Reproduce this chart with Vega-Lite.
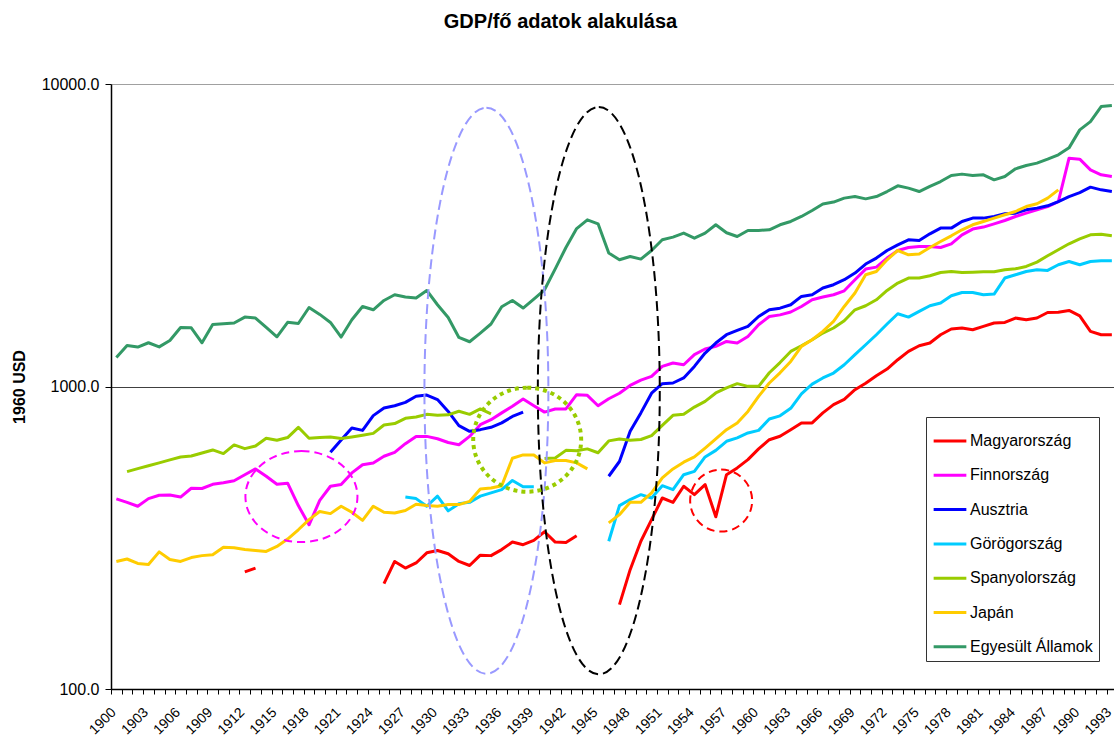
{
  "$schema": "https://vega.github.io/schema/vega-lite/v6.json",
  "width": 1003,
  "height": 605,
  "autosize": "none",
  "padding": {"left": 111, "top": 84, "right": 0, "bottom": 50},
  "background": "white",
  "config": {"font": "Liberation Sans", "view": {"stroke": null}},
  "title": {"text": "GDP/fő adatok alakulása", "fontSize": 20, "fontWeight": "bold", "color": "black", "font": "Liberation Sans", "anchor": "middle", "dx": -52, "offset": 44, "frame": "group"},
  "layer": [
    {
      "data": {"values": [
        {"Év":1900,"Finnország":425,"Japán":264,"Egyesült Államok":1248},
        {"Év":1901,"Finnország":414,"Spanyolország":523,"Japán":269,"Egyesült Államok":1367},
        {"Év":1902,"Finnország":402,"Spanyolország":535,"Japán":260,"Egyesült Államok":1350},
        {"Év":1903,"Finnország":426,"Spanyolország":547,"Japán":258,"Egyesült Államok":1395},
        {"Év":1904,"Finnország":437,"Spanyolország":559,"Japán":284,"Egyesült Államok":1352},
        {"Év":1905,"Finnország":438,"Spanyolország":572,"Japán":268,"Egyesült Államok":1420},
        {"Év":1906,"Finnország":431,"Spanyolország":585,"Japán":264,"Egyesült Államok":1567},
        {"Év":1907,"Finnország":461,"Spanyolország":589,"Japán":272,"Egyesült Államok":1563},
        {"Év":1908,"Finnország":460,"Spanyolország":603,"Japán":276,"Egyesült Államok":1395},
        {"Év":1909,"Finnország":475,"Spanyolország":617,"Japán":278,"Egyesült Államok":1604},
        {"Év":1910,"Finnország":481,"Spanyolország":600,"Japán":294,"Egyesült Államok":1612},
        {"Év":1911,"Finnország":488,"Spanyolország":641,"Japán":293,"Egyesült Államok":1621},
        {"Év":1912,"Magyarország":244,"Finnország":511,"Spanyolország":623,"Japán":289,"Egyesült Államok":1696},
        {"Év":1913,"Magyarország":251,"Finnország":534,"Spanyolország":636,"Japán":287,"Egyesült Államok":1683},
        {"Év":1914,"Finnország":505,"Spanyolország":674,"Japán":285,"Egyesült Államok":1567},
        {"Év":1915,"Finnország":475,"Spanyolország":664,"Japán":296,"Egyesült Államok":1460},
        {"Év":1916,"Finnország":479,"Spanyolország":678,"Japán":313,"Egyesült Államok":1630},
        {"Év":1917,"Finnország":404,"Spanyolország":733,"Japán":336,"Egyesült Államok":1615},
        {"Év":1918,"Finnország":349,"Spanyolország":674,"Japán":363,"Egyesült Államok":1825},
        {"Év":1919,"Finnország":420,"Spanyolország":678,"Japán":386,"Egyesült Államok":1731},
        {"Év":1920,"Finnország":468,"Ausztria":606,"Spanyolország":681,"Japán":380,"Egyesült Államok":1628},
        {"Év":1921,"Finnország":474,"Ausztria":666,"Spanyolország":673,"Japán":402,"Egyesült Államok":1457},
        {"Év":1922,"Finnország":518,"Ausztria":729,"Spanyolország":681,"Japán":384,"Egyesült Államok":1662},
        {"Év":1923,"Finnország":551,"Ausztria":716,"Spanyolország":690,"Japán":361,"Egyesült Államok":1839},
        {"Év":1924,"Finnország":559,"Ausztria":801,"Spanyolország":700,"Japán":402,"Egyesült Államok":1793},
        {"Év":1925,"Magyarország":223,"Finnország":588,"Ausztria":849,"Spanyolország":746,"Japán":384,"Egyesült Államok":1925},
        {"Év":1926,"Magyarország":264,"Finnország":606,"Ausztria":864,"Spanyolország":754,"Japán":382,"Egyesült Államok":2011},
        {"Év":1927,"Magyarország":251,"Finnország":647,"Ausztria":886,"Görögország":431,"Spanyolország":785,"Japán":389,"Egyesült Államok":1976},
        {"Év":1928,"Magyarország":261,"Finnország":684,"Ausztria":928,"Görögország":426,"Spanyolország":793,"Japán":408,"Egyesült Államok":1961},
        {"Év":1929,"Magyarország":282,"Finnország":684,"Ausztria":937,"Görögország":402,"Spanyolország":809,"Japán":404,"Egyesült Államok":2077},
        {"Év":1930,"Magyarország":287,"Finnország":672,"Ausztria":905,"Görögország":434,"Spanyolország":803,"Japán":402,"Egyesült Államok":1863},
        {"Év":1931,"Magyarország":280,"Finnország":653,"Ausztria":827,"Görögország":388,"Spanyolország":806,"Japán":407,"Egyesült Államok":1690},
        {"Év":1932,"Magyarország":264,"Finnország":642,"Ausztria":742,"Görögország":410,"Spanyolország":828,"Japán":407,"Egyesült Államok":1453},
        {"Év":1933,"Magyarország":256,"Finnország":684,"Ausztria":711,"Görögország":414,"Spanyolország":809,"Japán":417,"Egyesült Államok":1406},
        {"Év":1934,"Magyarország":277,"Finnország":748,"Ausztria":720,"Görögország":434,"Spanyolország":843,"Japán":458,"Egyesült Államok":1502},
        {"Év":1935,"Magyarország":276,"Finnország":777,"Ausztria":733,"Görögország":445,"Spanyolország":812,"Japán":462,"Egyesült Államok":1609},
        {"Év":1936,"Magyarország":289,"Finnország":818,"Ausztria":758,"Görögország":456,"Japán":470,"Egyesült Államok":1835},
        {"Év":1937,"Magyarország":306,"Finnország":860,"Ausztria":796,"Görögország":489,"Japán":579,"Egyesült Államok":1925},
        {"Év":1938,"Magyarország":300,"Finnország":909,"Ausztria":823,"Görögország":466,"Japán":594,"Egyesült Államok":1817},
        {"Év":1939,"Magyarország":310,"Finnország":864,"Görögország":466,"Japán":594,"Egyesült Államok":1945},
        {"Év":1940,"Magyarország":331,"Finnország":823,"Spanyolország":578,"Japán":559,"Egyesült Államok":2088},
        {"Év":1941,"Magyarország":306,"Finnország":843,"Spanyolország":580,"Japán":569,"Egyesült Államok":2449},
        {"Év":1942,"Magyarország":305,"Finnország":843,"Spanyolország":615,"Japán":569,"Egyesült Államok":2881},
        {"Év":1943,"Magyarország":321,"Finnország":940,"Spanyolország":613,"Japán":559,"Egyesült Államok":3328},
        {"Év":1944,"Finnország":935,"Spanyolország":622,"Japán":534,"Egyesült Államok":3556},
        {"Év":1945,"Finnország":864,"Spanyolország":604,"Egyesült Államok":3450},
        {"Év":1946,"Finnország":911,"Ausztria":505,"Görögország":308,"Spanyolország":661,"Japán":354,"Egyesült Államok":2761},
        {"Év":1947,"Magyarország":190,"Finnország":950,"Ausztria":565,"Görögország":404,"Spanyolország":671,"Japán":377,"Egyesült Államok":2624},
        {"Év":1948,"Magyarország":248,"Finnország":1008,"Ausztria":711,"Görögország":423,"Spanyolország":664,"Japán":414,"Egyesült Államok":2690},
        {"Év":1949,"Magyarország":308,"Finnország":1050,"Ausztria":818,"Görögország":439,"Spanyolország":668,"Japán":414,"Egyesült Államok":2637},
        {"Év":1950,"Magyarország":363,"Finnország":1080,"Ausztria":950,"Görögország":428,"Spanyolország":688,"Japán":445,"Egyesült Államok":2816},
        {"Év":1951,"Magyarország":428,"Finnország":1165,"Ausztria":1022,"Görögország":470,"Spanyolország":744,"Japán":499,"Egyesült Államok":3055},
        {"Év":1952,"Magyarország":414,"Finnország":1196,"Ausztria":1027,"Görögország":456,"Spanyolország":803,"Japán":534,"Egyesült Államok":3118},
        {"Év":1953,"Magyarország":468,"Finnország":1180,"Ausztria":1067,"Görögország":511,"Spanyolország":809,"Japán":562,"Egyesült Államok":3214},
        {"Év":1954,"Magyarország":439,"Finnország":1274,"Ausztria":1165,"Görögország":524,"Spanyolország":855,"Japán":585,"Egyesült Államok":3094},
        {"Év":1955,"Magyarország":474,"Finnország":1330,"Ausztria":1290,"Görögország":585,"Spanyolország":893,"Japán":626,"Egyesült Államok":3214},
        {"Év":1956,"Magyarország":371,"Finnország":1357,"Ausztria":1392,"Görögország":615,"Spanyolország":952,"Japán":671,"Egyesült Államok":3424},
        {"Év":1957,"Magyarország":511,"Finnország":1409,"Ausztria":1483,"Görögország":659,"Spanyolország":989,"Japán":720,"Egyesült Államok":3222},
        {"Év":1958,"Magyarország":538,"Finnország":1392,"Ausztria":1532,"Görögország":676,"Spanyolország":1022,"Japán":758,"Egyesült Államok":3133},
        {"Év":1959,"Magyarország":573,"Finnország":1464,"Ausztria":1580,"Görögország":702,"Spanyolország":1001,"Japán":827,"Egyesült Államok":3280},
        {"Év":1960,"Magyarország":622,"Finnország":1600,"Ausztria":1704,"Görögország":716,"Spanyolország":1001,"Japán":928,"Egyesült Államok":3280},
        {"Év":1961,"Magyarország":667,"Finnország":1704,"Ausztria":1793,"Görögország":781,"Spanyolország":1110,"Japán":1027,"Egyesült Államok":3297},
        {"Év":1962,"Magyarország":685,"Finnország":1725,"Ausztria":1815,"Görögország":800,"Spanyolország":1200,"Japán":1110,"Egyesült Államok":3424},
        {"Év":1963,"Magyarország":720,"Finnország":1763,"Ausztria":1863,"Görögország":847,"Spanyolország":1306,"Japán":1210,"Egyesült Államok":3512},
        {"Év":1964,"Magyarország":758,"Finnország":1839,"Ausztria":1985,"Görögország":946,"Spanyolország":1364,"Japán":1357,"Egyesült Államok":3648},
        {"Év":1965,"Magyarország":758,"Finnország":1935,"Ausztria":2011,"Görögország":1018,"Spanyolország":1428,"Japán":1428,"Egyesült Államok":3818},
        {"Év":1966,"Magyarország":818,"Finnország":1976,"Ausztria":2116,"Görögország":1067,"Spanyolország":1502,"Japán":1521,"Egyesült Államok":4009},
        {"Év":1967,"Magyarország":871,"Finnország":2011,"Ausztria":2170,"Görögország":1108,"Spanyolország":1561,"Japán":1641,"Egyesült Államok":4070},
        {"Év":1968,"Magyarország":907,"Finnország":2072,"Ausztria":2254,"Görögország":1180,"Spanyolország":1650,"Japán":1839,"Egyesült Államok":4195},
        {"Év":1969,"Magyarország":976,"Finnország":2254,"Ausztria":2371,"Görögország":1274,"Spanyolország":1793,"Japán":2037,"Egyesült Államok":4246},
        {"Év":1970,"Magyarország":1025,"Finnország":2444,"Ausztria":2540,"Görögország":1374,"Spanyolország":1849,"Japán":2341,"Egyesült Államok":4172},
        {"Év":1971,"Magyarország":1086,"Finnország":2481,"Ausztria":2658,"Görögország":1483,"Spanyolország":1935,"Japán":2400,"Egyesült Államok":4246},
        {"Év":1972,"Magyarország":1142,"Finnország":2658,"Ausztria":2816,"Görögország":1609,"Spanyolország":2077,"Japán":2624,"Egyesült Államok":4411},
        {"Év":1973,"Magyarország":1226,"Finnország":2816,"Ausztria":2940,"Görögország":1740,"Spanyolország":2198,"Japán":2816,"Egyesült Államok":4607},
        {"Év":1974,"Magyarország":1306,"Finnország":2881,"Ausztria":3055,"Görögország":1696,"Spanyolország":2283,"Japán":2725,"Egyesült Államok":4526},
        {"Év":1975,"Magyarország":1364,"Finnország":2903,"Ausztria":3039,"Görögország":1771,"Spanyolország":2283,"Japán":2740,"Egyesült Államok":4411},
        {"Év":1976,"Magyarország":1392,"Finnország":2903,"Ausztria":3197,"Görögország":1849,"Spanyolország":2323,"Japán":2881,"Egyesült Államok":4590},
        {"Év":1977,"Magyarország":1483,"Finnország":2881,"Ausztria":3339,"Görögország":1887,"Spanyolország":2382,"Japán":3016,"Egyesült Államok":4760},
        {"Év":1978,"Magyarország":1549,"Finnország":2963,"Ausztria":3339,"Görögország":1995,"Spanyolország":2400,"Japán":3149,"Egyesült Államok":4983},
        {"Év":1979,"Magyarország":1561,"Finnország":3173,"Ausztria":3512,"Görögország":2046,"Spanyolország":2382,"Japán":3297,"Egyesült Államok":5036},
        {"Év":1980,"Magyarország":1540,"Finnország":3314,"Ausztria":3603,"Görögország":2046,"Spanyolország":2388,"Japán":3424,"Egyesült Államok":4983},
        {"Év":1981,"Magyarország":1580,"Finnország":3365,"Ausztria":3603,"Görögország":2011,"Spanyolország":2395,"Japán":3512,"Egyesült Államok":5009},
        {"Év":1982,"Magyarország":1621,"Finnország":3450,"Ausztria":3648,"Görögország":2021,"Spanyolország":2395,"Japán":3603,"Egyesült Államok":4822},
        {"Év":1983,"Magyarország":1628,"Finnország":3538,"Ausztria":3723,"Görögország":2283,"Spanyolország":2432,"Japán":3695,"Egyesült Államok":4944},
        {"Év":1984,"Magyarország":1684,"Finnország":3648,"Ausztria":3742,"Görögország":2341,"Spanyolország":2449,"Japán":3789,"Egyesült Államok":5243},
        {"Év":1985,"Magyarország":1662,"Finnország":3742,"Ausztria":3837,"Görögország":2400,"Spanyolország":2494,"Japán":3935,"Egyesült Államok":5377},
        {"Év":1986,"Magyarország":1684,"Finnország":3837,"Ausztria":3887,"Görögország":2432,"Spanyolország":2578,"Japán":4018,"Egyesült Államok":5475},
        {"Év":1987,"Magyarország":1757,"Finnország":3935,"Ausztria":3956,"Görögország":2420,"Spanyolország":2705,"Japán":4195,"Egyesült Államok":5644},
        {"Év":1988,"Magyarország":1761,"Finnország":4088,"Ausztria":4088,"Görögország":2526,"Spanyolország":2831,"Japán":4468,"Egyesült Államok":5832},
        {"Év":1989,"Magyarország":1784,"Finnország":5687,"Ausztria":4246,"Görögország":2590,"Spanyolország":2963,"Egyesült Államok":6150},
        {"Év":1990,"Magyarország":1713,"Finnország":5644,"Ausztria":4377,"Görögország":2526,"Spanyolország":3078,"Egyesült Államok":7053},
        {"Év":1991,"Magyarország":1521,"Finnország":5203,"Ausztria":4560,"Görögország":2590,"Spanyolország":3173,"Egyesült Államok":7511},
        {"Év":1992,"Magyarország":1483,"Finnország":5009,"Ausztria":4468,"Görögország":2603,"Spanyolország":3189,"Egyesült Államok":8420},
        {"Év":1993,"Magyarország":1483,"Finnország":4944,"Ausztria":4411,"Görögország":2603,"Spanyolország":3149,"Egyesült Államok":8490}
      ]},
      "transform": [{"fold": ["Magyarország","Finnország","Ausztria","Görögország","Spanyolország","Japán","Egyesült Államok"], "as": ["Ország","GDP"]}],
      "mark": {"type": "line", "strokeWidth": 3, "invalid": "break-paths-show-domains", "strokeJoin": "round"},
      "encoding": {
        "x": {"field": "Év", "type": "quantitative",
          "scale": {"domain": [1899.5, 1993.2], "nice": false, "zero": false},
          "axis": {"title": null, "grid": false, "tickCount": 500,
            "values": [1899.5,1900.5,1901.5,1902.5,1903.5,1904.5,1905.5,1906.5,1907.5,1908.5,1909.5,1910.5,1911.5,1912.5,1913.5,1914.5,1915.5,1916.5,1917.5,1918.5,1919.5,1920.5,1921.5,1922.5,1923.5,1924.5,1925.5,1926.5,1927.5,1928.5,1929.5,1930.5,1931.5,1932.5,1933.5,1934.5,1935.5,1936.5,1937.5,1938.5,1939.5,1940.5,1941.5,1942.5,1943.5,1944.5,1945.5,1946.5,1947.5,1948.5,1949.5,1950.5,1951.5,1952.5,1953.5,1954.5,1955.5,1956.5,1957.5,1958.5,1959.5,1960.5,1961.5,1962.5,1963.5,1964.5,1965.5,1966.5,1967.5,1968.5,1969.5,1970.5,1971.5,1972.5,1973.5,1974.5,1975.5,1976.5,1977.5,1978.5,1979.5,1980.5,1981.5,1982.5,1983.5,1984.5,1985.5,1986.5,1987.5,1988.5,1989.5,1990.5,1991.5,1992.5],
            "labelExpr": "(datum.value + 0.5) % 3 == 1 ? '' + (datum.value + 0.5) : ''",
            "labelAngle": -45, "labelAlign": "right", "labelBaseline": "middle",
            "labelOffset": 2.5, "labelPadding": 16, "tickSize": 5,
            "labelOverlap": false, "labelBound": false, "labelFlush": false,
            "labelFontSize": 14, "labelColor": "black", "labelFont": "Liberation Sans",
            "domainColor": "black", "domainWidth": 1.5, "tickColor": "black", "tickWidth": 1}
        },
        "y": {"field": "GDP", "type": "quantitative",
          "scale": {"type": "log", "domain": [100, 10000], "nice": false},
          "axis": {"values": [100, 1000, 10000], "format": ".1f", "grid": true,
            "gridColor": {"condition": {"test": "datum.value >= 10000", "value": "#a0a0a0"}, "value": "#404040"},
            "gridWidth": 1,
            "labelFontSize": 16, "labelColor": "black", "labelFont": "Liberation Sans", "labelPadding": 6,
            "tickSize": 6, "tickColor": "black", "domainColor": "black", "domainWidth": 1.5,
            "title": "1960 USD", "titleFontSize": 16, "titleFontWeight": "bold", "titleColor": "black", "titleFont": "Liberation Sans", "titlePadding": 14}
        },
        "color": {"field": "Ország", "type": "nominal",
          "scale": {"domain": ["Magyarország","Finnország","Ausztria","Görögország","Spanyolország","Japán","Egyesült Államok"],
                    "range": ["#FF0000","#FF00FF","#0000FF","#00CCFF","#99CC00","#FFCC00","#339966"]},
          "legend": {"title": null, "orient": "none", "legendX": 815, "legendY": 333,
            "symbolType": "stroke", "symbolSize": 1070, "symbolStrokeWidth": 3,
            "labelFontSize": 16, "labelColor": "black", "labelFont": "Liberation Sans", "labelOffset": 2,
            "strokeColor": "#333333", "fillColor": "white", "padding": 6, "rowPadding": 8.3}
        }
      }
    },
    {
      "data": {"values": [{"Év": 1934.57, "GDP": 968.5}]},
      "mark": {"type": "point", "shape": "M0,-1 C0.121,-1 0.219,-0.552 0.219,0 C0.219,0.552 0.121,1 0,1 C-0.121,1 -0.219,0.552 -0.219,0 C-0.219,-0.552 -0.121,-1 0,-1 Z", "size": 320356, "filled": false, "stroke": "#9999FF", "strokeWidth": 2, "strokeDash": [10, 5], "opacity": 1},
      "encoding": {"x": {"field": "Év", "type": "quantitative"}, "y": {"field": "GDP", "type": "quantitative"}}
    },
    {
      "data": {"values": [{"Év": 1945.07, "GDP": 968.5}]},
      "mark": {"type": "point", "shape": "M0,-1 C0.119,-1 0.215,-0.552 0.215,0 C0.215,0.552 0.119,1 0,1 C-0.119,1 -0.215,0.552 -0.215,0 C-0.215,-0.552 -0.119,-1 0,-1 Z", "size": 321716, "filled": false, "stroke": "#000000", "strokeWidth": 2, "strokeDash": [10, 5], "opacity": 1},
      "encoding": {"x": {"field": "Év", "type": "quantitative"}, "y": {"field": "GDP", "type": "quantitative"}}
    },
    {
      "data": {"values": [{"Év": 1938.38, "GDP": 667}]},
      "mark": {"type": "point", "shape": "M0,-1 C0.573,-1 1.038,-0.552 1.038,0 C1.038,0.552 0.573,1 0,1 C-0.573,1 -1.038,0.552 -1.038,0 C-1.038,-0.552 -0.573,-1 0,-1 Z", "size": 10816, "filled": false, "stroke": "#99CC00", "strokeWidth": 4, "strokeDash": [4, 4], "opacity": 1},
      "encoding": {"x": {"field": "Év", "type": "quantitative"}, "y": {"field": "GDP", "type": "quantitative"}}
    },
    {
      "data": {"values": [{"Év": 1917.29, "GDP": 432.5}]},
      "mark": {"type": "point", "shape": "M0,-1 C0.680,-1 1.231,-0.552 1.231,0 C1.231,0.552 0.680,1 0,1 C-0.680,1 -1.231,0.552 -1.231,0 C-1.231,-0.552 -0.680,-1 0,-1 Z", "size": 8281, "filled": false, "stroke": "#FF00FF", "strokeWidth": 2, "strokeDash": [8, 5], "opacity": 1},
      "encoding": {"x": {"field": "Év", "type": "quantitative"}, "y": {"field": "GDP", "type": "quantitative"}}
    },
    {
      "data": {"values": [{"Év": 1956.5, "GDP": 419.6}]},
      "mark": {"type": "point", "shape": "M0,-1 C0.552,-1 1,-0.552 1,0 C1,0.552 0.552,1 0,1 C-0.552,1 -1,0.552 -1,0 C-1,-0.552 -0.552,-1 0,-1 Z", "size": 3844, "filled": false, "stroke": "#FF0000", "strokeWidth": 2, "strokeDash": [8, 5], "opacity": 1},
      "encoding": {"x": {"field": "Év", "type": "quantitative"}, "y": {"field": "GDP", "type": "quantitative"}}
    }
  ]
}
